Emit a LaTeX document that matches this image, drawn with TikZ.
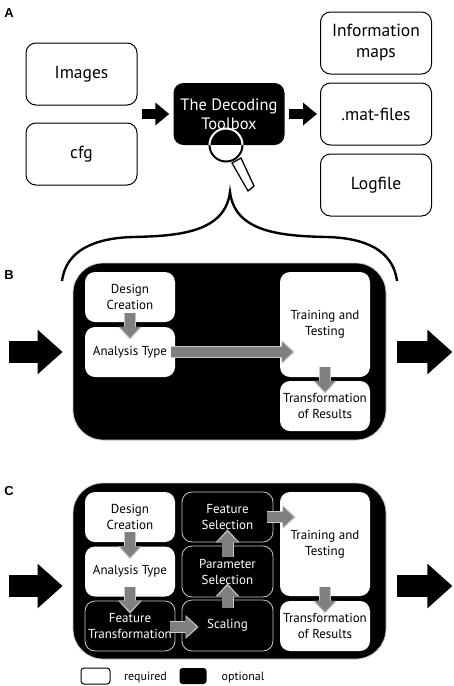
\documentclass[tikz,border=0pt]{standalone}
\usepackage{fontspec}
\setmainfont{PT Sans}
\newfontfamily\lblfont[BoldFont={Liberation Sans Bold}]{Liberation Sans}
\usetikzlibrary{arrows.meta,calc}
\definecolor{arrowgray}{HTML}{808080}
\definecolor{rimgray}{HTML}{C8C8C8}
\tikzset{
  x=1pt,y=-1pt,
  wbox/.style={draw=black,fill=white,line width=1pt,rounded corners=10pt,inner sep=0pt,align=center,font=\fontsize{17.5}{21}\selectfont,minimum width=#1},
  wbox/.default=111pt,
  kbox/.style={fill=black,text=white,rounded corners=10pt,inner sep=0pt,align=center,font=\fontsize{16.5}{19}\selectfont,minimum width=111pt,minimum height=62pt},
  outer/.style={fill=black,draw=rimgray,line width=.8pt,rounded corners=30pt,inner sep=0pt,minimum width=313pt},
  req/.style={fill=white,rounded corners=10pt,inner sep=0pt,align=center,font=\fontsize{13}{16}\selectfont,minimum width=90pt,minimum height=50pt},
  opt/.style={fill=black,text=white,draw=rimgray,line width=.8pt,rounded corners=10pt,inner sep=0pt,align=center,font=\fontsize{13}{16}\selectfont,minimum width=90pt,minimum height=50pt},
  blockA/.style={draw=black,line width=10pt,-{Triangle[length=14pt,width=22pt]}},
  blockB/.style={draw=black,line width=22pt,-{Triangle[length=25pt,width=43pt]}},
  rim/.style={draw=rimgray,line width=12pt,shorten >=-2pt,-{Triangle[length=13pt,width=23pt]}},
  core/.style={draw=arrowgray,line width=10.5pt,-{Triangle[length=11pt,width=20pt]}},
  tag/.style={font=\lblfont\bfseries\fontsize{13}{15}\selectfont,inner sep=0pt},
  legend/.style={font=\fontsize{12}{14}\selectfont,inner sep=0pt},
}
\newcommand{\gar}[2]{\path[rim] #1 -- #2; \path[core] #1 -- #2;}
\begin{document}
\begin{tikzpicture}
\useasboundingbox (0,0) rectangle (454,686);
% Panel A
\node[tag] (la) at (9,13) {A};
\node[wbox,minimum height=62pt] (images) at (81.5,74) {Images};
\node[wbox,minimum height=62pt] (cfg) at (81.5,154) {cfg};
\node[kbox] (tdt) at (229,114) {The Decoding\\Toolbox};
\node[wbox,minimum height=62pt] (maps) at (376,43) {Information\\maps};
\node[wbox,minimum height=62pt] (mat) at (376,114) {.mat-files};
\node[wbox,minimum height=62pt] (log) at (376,185) {Logfile};
\coordinate (ain) at (142,114);
\path[blockA] (ain) -- ($(tdt.west)+(-4,0)$);
\path[blockA] ($(tdt.east)+(4,0)$) -- ($(mat.west)+(-3,0)$);
% magnifier
\draw[black,line width=1.3pt,fill=white] (232,163) -- (241,158) -- (254,186) -- (248,191) -- cycle;
\fill[white] (209.5,145) arc[start angle=180,end angle=0,radius=16.5] -- cycle;
\draw[black,line width=2pt] (209.5,145) arc[start angle=180,end angle=0,radius=16.5];
\draw[white,line width=2pt] (209.5,145) arc[start angle=180,end angle=360,radius=16.5];
% brace
\draw[black,line width=2.4pt] (62,281) .. controls (66,250) and (95,238) .. (133,237)
  .. controls (180,236) and (225,232) .. (230,192)
  .. controls (235,232) and (280,236) .. (327,237)
  .. controls (365,238) and (393,250) .. (397,281);
% Panel B
\node[tag] (lb) at (9,275) {B};
\node[outer,minimum height=177pt] (ob) at (229.5,351.5) {};
\node[req] (bdc) at (130,297) {Design\\Creation};
\node[req] (bat) at (130,352) {Analysis Type};
\node[req,minimum height=105pt] (btt) at (325,324.5) {Training and\\Testing};
\node[req] (btr) at (325,406) {Transformation\\of Results};
\gar{($(bdc.south)+(0,-9)$)}{($(bat.north)+(0,11)$)}
\gar{($(bat.east)+(-4,0)$)}{($(btt.west)+(13,27.5)$)}
\gar{($(btt.south)+(0,-10)$)}{($(btr.north)+(0,11)$)}
\coordinate (bin) at (9,352);
\coordinate (bout) at (397,352);
\path[blockB] (bin) -- ($(ob.west)+(-10,0.5)$);
\path[blockB] (bout) -- ($(ob.east)+(66,0.5)$);
% Panel C
\node[tag] (lc) at (9,491) {C};
\node[outer,minimum height=176pt] (oc) at (229.5,571) {};
\node[req] (cdc) at (130,517) {Design\\Creation};
\node[req] (cat) at (130,571.5) {Analysis Type};
\node[opt] (cft) at (130,626) {Feature\\Transformation};
\node[opt,minimum width=91pt] (cfs) at (227.5,517) {Feature\\Selection};
\node[opt,minimum width=91pt,minimum height=51pt] (cps) at (227.5,571.5) {Parameter\\Selection};
\node[opt,minimum width=91pt,minimum height=51pt] (csc) at (227.5,625.5) {Scaling};
\node[req,minimum height=104pt] (ctt) at (325,544) {Training and\\Testing};
\node[req] (ctr) at (325,626) {Transformation\\of Results};
\gar{($(cdc.south)+(0,-10)$)}{($(cat.north)+(0,11)$)}
\gar{($(cat.south)+(0,-9.5)$)}{($(cft.north)+(0,11)$)}
\gar{($(cft.east)+(-5,1)$)}{($(csc.west)+(15,1.5)$)}
\gar{($(csc.north)+(0,8)$)}{($(cps.south)+(0,-12)$)}
\gar{($(cps.north)+(0,11)$)}{($(cfs.south)+(0,-11)$)}
\gar{($(cfs.east)+(-6,0)$)}{($(ctt.west)+(14,-27)$)}
\gar{($(ctt.south)+(0,-9)$)}{($(ctr.north)+(0,11)$)}
\coordinate (cin) at (9,586);
\coordinate (cout) at (397,586);
\path[blockB] (cin) -- ($(oc.west)+(-10,15)$);
\path[blockB] (cout) -- ($(oc.east)+(66,15)$);
% legend
\node[draw=black,line width=1pt,fill=white,rounded corners=3pt,minimum width=29pt,minimum height=16pt,inner sep=0pt] (kreq) at (95.5,676) {};
\node[fill=black,rounded corners=3pt,minimum width=27pt,minimum height=16pt,inner sep=0pt] (kopt) at (193,676) {};
\node[legend] (treq) at (145.5,677) {required};
\node[legend] (topt) at (243,677) {optional};
\end{tikzpicture}
\end{document}
